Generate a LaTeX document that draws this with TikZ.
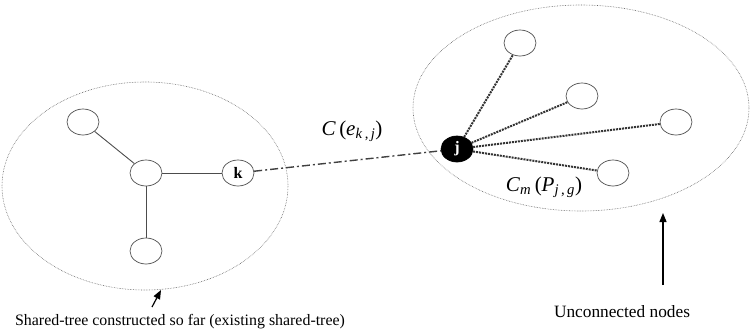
\documentclass[tikz,border=0pt]{standalone}
\usepackage{fontspec}
\setmainfont{Liberation Serif}
\usepackage{tikz}
\usetikzlibrary{shapes, arrows.meta, positioning, calc}
\usepackage{amsmath, amssymb}

\begin{document}
\begin{tikzpicture}[x=1pt, y=-1pt,
        vertex/.style={draw=black!70, ellipse, minimum width=32pt, minimum height=26pt, inner sep=0pt, line width=0.7pt, font=\bfseries\fontsize{16}{16}\selectfont},
        region/.style={draw=black!60, densely dotted, line width=0.6pt},
        treeedge/.style={draw=black!70, line width=0.9pt},
        probe/.style={draw=black!80, densely dotted, line width=2pt},
        caption/.style={font=\fontsize{15.9}{18}\selectfont},
        weight/.style={font=\fontsize{21}{23}\selectfont},
      ]
      \useasboundingbox (0,0) rectangle (750,335);
      % the two regions
      \draw[region] (145,186) ellipse [x radius=143, y radius=104];
      \draw[region] (581,108) ellipse [x radius=168, y radius=103];
      % existing shared tree
      \node[vertex] (leaf1) at (83,122) {};
      \node[vertex] (hub) at (146,173) {};
      \node[vertex] (leaf2) at (146,251) {};
      \node[vertex] (k) at (238,173) {k};
      \draw[treeedge] (leaf1) -- (hub);
      \draw[treeedge] (hub) -- (leaf2);
      \draw[treeedge] (hub) -- (k);
      % unconnected nodes
      \node[vertex, fill=black, text=white, draw=black] (j) at (457,149) {j};
      \node[vertex] (u1) at (520,43) {};
      \node[vertex] (u2) at (582,96) {};
      \node[vertex] (u3) at (676,122) {};
      \node[vertex] (u4) at (613,173) {};
      \foreach \u in {u1, u2, u3, u4}
        \draw[probe] (j) -- (\u);
      \draw[draw=black!75, dash pattern=on 8pt off 3pt on 2pt off 3pt, line width=1.4pt] (k) -- (j);
      \node[weight] (ckj) at (352,131) {\textit{C}\,(\textit{e}\textsubscript{\textit{k}\,,\,\textit{j}})};
      \node[weight] (cm) at (544,187) {\textit{C}\textsubscript{\textit{m}}\,(\textit{P}\textsubscript{\textit{j}\,,\,\textit{g}})};
      % captions
      \node[caption] (treetext) at (180,322) {Shared-tree constructed so far (existing shared-tree)};
      \node[caption, font=\fontsize{17.3}{19}\selectfont] (freetext) at (622,312) {Unconnected nodes};
      \coordinate (treetail) at (152,307);
      \coordinate (treetip) at (161,290);
      \coordinate (freetail) at (663,285);
      \coordinate (freetip) at (663,213);
      \draw[-{Triangle[length=9pt, width=7pt]}, line width=1.2pt] (treetail) -- (treetip);
      \draw[-{Triangle[length=9pt, width=7pt]}, line width=1.2pt] (freetail) -- (freetip);
      \end{tikzpicture}
\end{document}
